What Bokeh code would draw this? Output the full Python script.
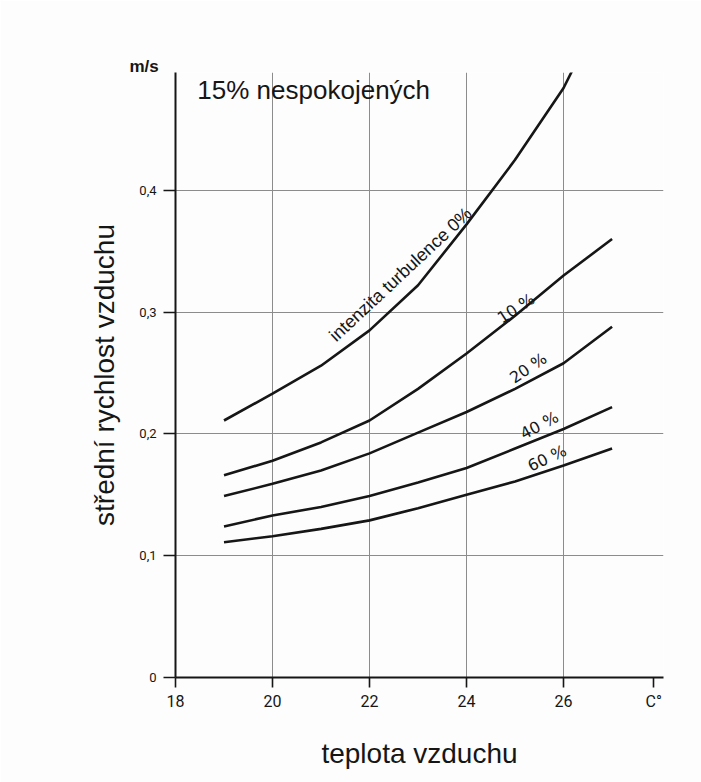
from bokeh.plotting import figure
from bokeh.models import FixedTicker, Range1d, Title
from bokeh.core.properties import value
from bokeh.embed import file_html
from bokeh.resources import INLINE

# ---- data ----
temps = [19, 20, 21, 22, 23, 24, 25, 26, 27]
temps0 = [19, 20, 21, 22, 23, 24, 25, 26, 26.2]
v0 = [0.211, 0.233, 0.256, 0.285, 0.322, 0.372, 0.425, 0.484, 0.500]
v10 = [0.166, 0.178, 0.193, 0.211, 0.237, 0.266, 0.297, 0.330, 0.360]
v20 = [0.149, 0.159, 0.170, 0.184, 0.201, 0.218, 0.237, 0.258, 0.288]
v40 = [0.124, 0.133, 0.140, 0.149, 0.160, 0.172, 0.188, 0.204, 0.222]
v60 = [0.111, 0.116, 0.122, 0.129, 0.139, 0.150, 0.161, 0.174, 0.188]

x_ticks = [18, 20, 22, 24, 26, 27.86]
x_tick_labels = ["18", "20", "22", "24", "26", "C°"]
y_ticks = [0, 0.1, 0.2, 0.3, 0.4]
y_tick_labels = ["0", "0,1", "0,2", "0,3", "0,4"]

curve_labels = ["intenzita turbulence 0%", "10 %", "20 %", "40 %", "60 %"]
label_x = [22.64, 25.02, 25.27, 25.50, 25.66]
label_y = [0.331, 0.303, 0.254, 0.207, 0.180]
label_angle = [43, 33, 34, 28, 25]

title_text = "15% nespokojených"
x_title = "teplota vzduchu"
y_title = "střední rychlost vzduchu"
unit_y = "m/s"

INK = "#161616"

p = figure(width=701, height=782, output_backend="svg", toolbar_location=None,
           x_range=Range1d(18, 28.06), y_range=Range1d(0, 0.4967),
           min_border_left=175, min_border_right=38,
           min_border_top=72, min_border_bottom=105)
p.background_fill_color = "#fdfdfd"
p.border_fill_color = "#fdfdfd"
p.outline_line_color = None

# axes
p.xaxis.ticker = FixedTicker(ticks=x_ticks)
p.xaxis.major_label_overrides = {t: l for t, l in zip(x_ticks, x_tick_labels)}
p.yaxis.ticker = FixedTicker(ticks=y_ticks)
p.yaxis.major_label_overrides = {t: l for t, l in zip(y_ticks, y_tick_labels)}
for ax in (p.xaxis, p.yaxis):
    ax.axis_line_color = INK
    ax.axis_line_width = 2
    ax.major_tick_line_color = INK
    ax.major_tick_line_width = 1.6
    ax.major_tick_in = 0
    ax.minor_tick_line_color = None
    ax.major_label_text_color = INK
    ax.major_label_text_font = "Roboto"
    ax.axis_label_text_font = "Liberation Sans"
    ax.axis_label_text_font_size = "28px"
    ax.axis_label_text_font_style = "normal"
    ax.axis_label_text_color = INK
p.xaxis.major_tick_out = 10
p.yaxis.major_tick_out = 12
p.xaxis.major_label_text_font_size = "16px"
p.yaxis.major_label_text_font_size = "13px"
p.xaxis.major_label_standoff = 4
p.yaxis.major_label_standoff = 7
p.xaxis.axis_label = x_title
p.yaxis.axis_label = y_title
p.xaxis.axis_label_standoff = 24
p.yaxis.axis_label_standoff = 16

# grid
p.xgrid.ticker = FixedTicker(ticks=[20, 22, 24, 26])
p.ygrid.ticker = FixedTicker(ticks=[0.1, 0.2, 0.3, 0.4])
for g in (p.xgrid, p.ygrid):
    g.grid_line_color = "#8c8c8c"
    g.grid_line_width = 1

# curves
p.line(temps0, v0, line_color=INK, line_width=2.6)
for vals in (v10, v20, v40, v60):
    p.line(temps, vals, line_color=INK, line_width=2.6)

# curve labels
p.text([label_x[0]], [label_y[0]], text=[curve_labels[0]], angle=[label_angle[0]],
       angle_units="deg", text_align="center", text_baseline="middle",
       text_font=value("Liberation Sans"), text_font_size="18px", text_color=INK)
p.text(label_x[1:], label_y[1:], text=curve_labels[1:], angle=label_angle[1:],
       angle_units="deg", text_align="center", text_baseline="middle",
       text_font=value("DejaVu Sans"), text_font_size="16px", text_color=INK)

# title inside plot
p.text([18.45], [0.482], text=[title_text], text_align="left",
       text_baseline="alphabetic", text_font=value("Liberation Sans"),
       text_font_size="26px", text_color=INK)

# unit of the y axis, above the axis top
p.add_layout(Title(text=unit_y, align="left", offset=-46, standoff=-7,
                   text_font="Liberation Sans", text_font_size="17px",
                   text_font_style="bold", text_color=INK), "above")

open("out.html", "w").write(file_html(p, INLINE))
